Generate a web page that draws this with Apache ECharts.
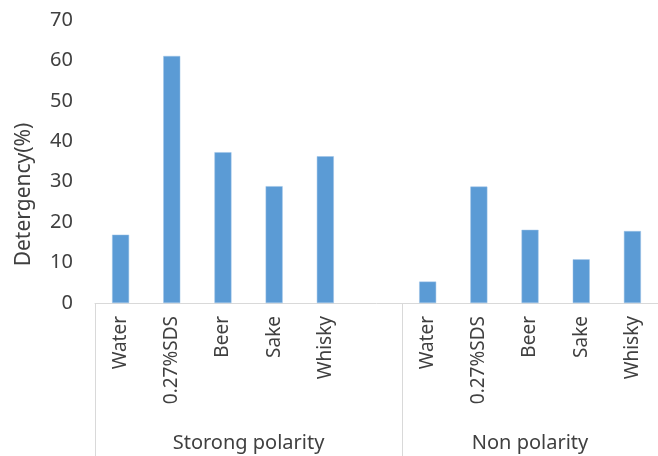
<!DOCTYPE html>
<html>
<head>
<meta charset="utf-8">
<script src="https://cdn.jsdelivr.net/npm/echarts@6/dist/echarts.min.js"></script>
<style>
  html, body { margin: 0; padding: 0; background: #fff; }
  #main { width: 658px; height: 456px; }
</style>
</head>
<body>
<div id="main"></div>
<script>
var myChart = echarts.init(document.getElementById('main'));

var strongCats = ['Water', '0.27%SDS', 'Beer', 'Sake', 'Whisky'];
var nonCats = ['Water', '0.27%SDS', 'Beer', 'Sake', 'Whisky'];
var strongValues = [16.9, 61.1, 37.3, 28.9, 36.3];
var nonValues = [5.3, 28.8, 18.1, 10.8, 17.8];
var groupNames = ['Storong polarity', 'Non polarity'];
var yTicks = [0, 10, 20, 30, 40, 50, 60, 70];

// one empty slot between the two groups, like the excel chart
var categories = strongCats.concat(['']).concat(nonCats);
var values = strongValues.concat([null]).concat(nonValues);
var nSlots = categories.length;
var groupEdges = [0, strongCats.length + 1, nSlots];
var groupMids = [(groupEdges[0] + groupEdges[1]) / 2, (groupEdges[1] + groupEdges[2]) / 2];

var font = 'Noto Sans';
var txt = '#404040';

var option = {
  animation: false,
  grid: { left: 95, right: -9, top: 20, bottom: 153, containLabel: false },
  xAxis: [
    {
      type: 'category',
      data: categories,
      axisLine: { show: true, lineStyle: { color: '#d9d9d9', width: 1 } },
      axisTick: { show: false },
      axisLabel: {
        rotate: 90, interval: 0, margin: 13,
        fontFamily: font, fontSize: 19, color: txt
      }
    },
    {
      type: 'value',
      min: 0, max: nSlots,
      position: 'bottom',
      axisLine: { show: false },
      splitLine: { show: false },
      axisTick: {
        show: true, customValues: groupEdges, length: 153,
        lineStyle: { color: '#d9d9d9', width: 1 }
      },
      axisLabel: {
        customValues: groupMids, margin: 130,
        fontFamily: font, fontSize: 20, color: txt,
        formatter: function (v) { return v === groupMids[0] ? groupNames[0] : groupNames[1]; }
      }
    }
  ],
  yAxis: {
    type: 'value',
    min: yTicks[0], max: yTicks[yTicks.length - 1], interval: 10,
    name: 'Detergency(%)',
    nameLocation: 'middle',
    nameGap: 60,
    nameTextStyle: { fontFamily: font, fontSize: 21, color: txt, padding: [0, 66, 0, 0] },
    axisLine: { show: false },
    axisTick: { show: false },
    splitLine: { show: false },
    axisLabel: { margin: 22, fontFamily: font, fontSize: 20, color: txt }
  },
  series: [{
    type: 'bar',
    data: values,
    barWidth: 17,
    itemStyle: { color: '#5b9bd5', borderColor: '#9cc3e6', borderWidth: 0.5 }
  }]
};
myChart.setOption(option);
</script>
</body>
</html>
